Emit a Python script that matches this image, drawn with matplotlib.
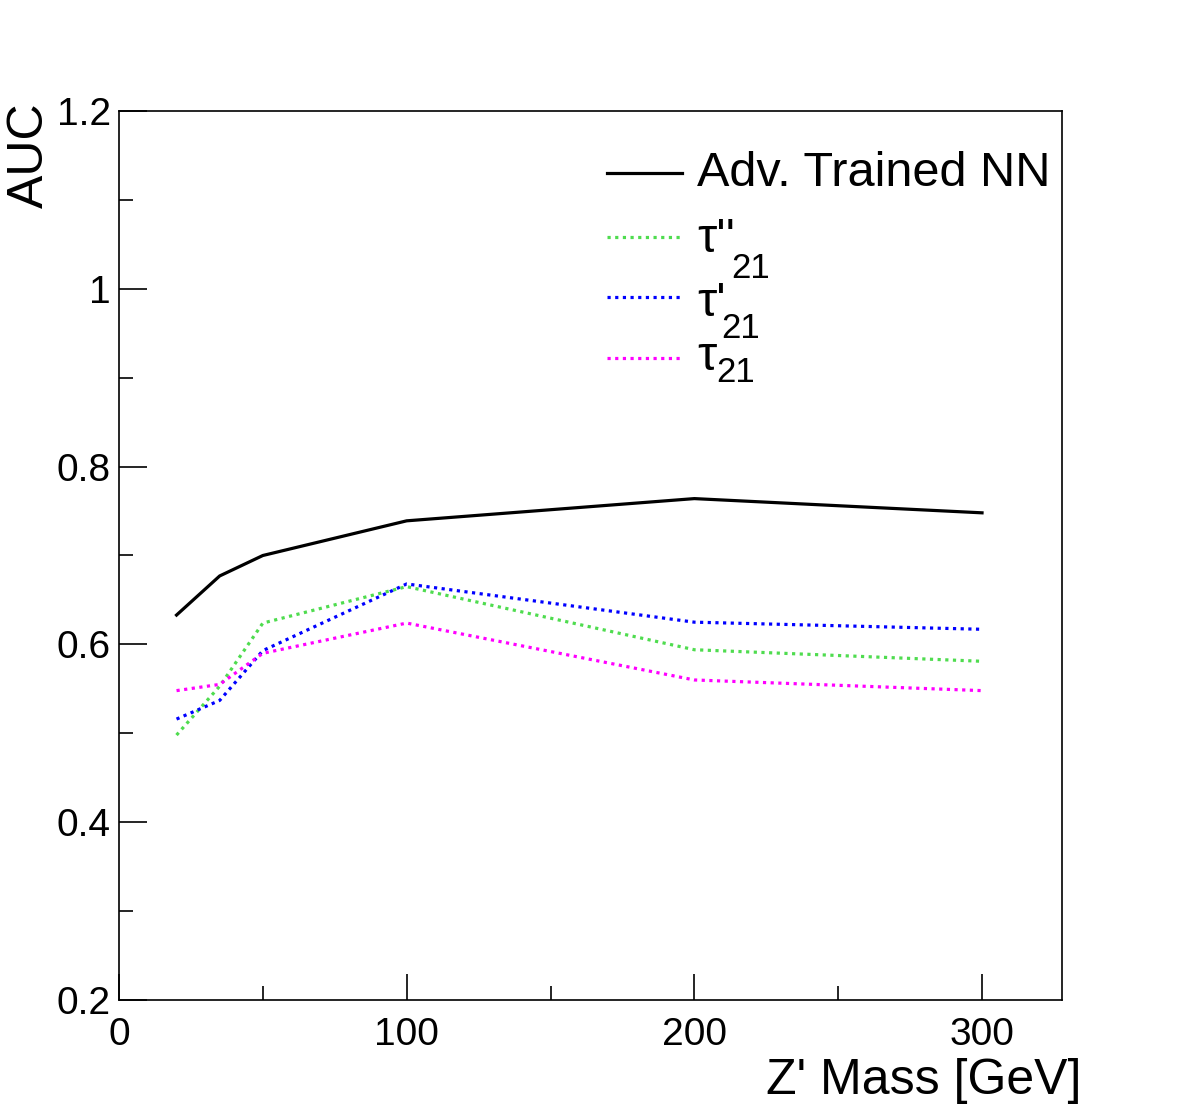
import matplotlib
matplotlib.use("Agg")
import matplotlib.pyplot as plt
from matplotlib.lines import Line2D
from matplotlib.ticker import MultipleLocator

plt.rcParams['font.family'] = ['Liberation Sans', 'DejaVu Sans']

masses = [20, 35, 50, 100, 200, 300]
auc_adv = [0.633, 0.677, 0.700, 0.739, 0.764, 0.748]
auc_tau_pp = [0.498, 0.553, 0.624, 0.665, 0.594, 0.581]
auc_tau_p = [0.516, 0.537, 0.593, 0.668, 0.625, 0.617]
auc_tau = [0.548, 0.555, 0.590, 0.624, 0.560, 0.548]

green = '#4fdc4f'
blue = '#0000ff'
magenta = '#ff00ff'
dots = (0, (1, 1.4))

fig = plt.figure(figsize=(11.82, 11.13), dpi=100)
ax = fig.add_axes([119 / 1182, 113 / 1113, 943 / 1182, 889 / 1113])

ax.plot(masses, auc_adv, color='black', lw=2.3)
ax.plot(masses, auc_tau_pp, color=green, lw=2.3, ls=dots)
ax.plot(masses, auc_tau_p, color=blue, lw=2.3, ls=dots)
ax.plot(masses, auc_tau, color=magenta, lw=2.3, ls=dots)

ax.set_xlim(0, 327.8)
ax.set_ylim(0.2, 1.2)
ax.xaxis.set_major_locator(MultipleLocator(100))
ax.xaxis.set_minor_locator(MultipleLocator(50))
ax.yaxis.set_minor_locator(MultipleLocator(0.1))
ax.set_yticks([0.2, 0.4, 0.6, 0.8, 1.0, 1.2])
ax.set_yticklabels(['0.2', '0.4', '0.6', '0.8', '1', '1.2'])
ax.tick_params(which='both', direction='in', top=False, right=False, labelsize=28, width=1.2)
ax.tick_params(axis='y', which='major', length=20, pad=6)
ax.tick_params(axis='y', which='minor', length=10)
ax.tick_params(axis='x', which='major', length=19, pad=12)
ax.tick_params(axis='x', which='minor', length=10)
for s in ax.spines.values():
    s.set_linewidth(1.2)

fig.text(30 / 1182, 1 - 102 / 1113, 'AUC', rotation=90, ha='center', va='top', fontsize=36)
fig.text(1081 / 1182, 1 - 1104 / 1113, "Z' Mass [GeV]", ha='right', va='bottom', fontsize=36)

# legend, drawn by hand to mimic the ROOT layout
def fx(px):
    return (px - 119) / 943

def fy(py):
    return (1000 - py) / 889

entries = [('black', '-', 173), (green, dots, 237), (blue, dots, 297), (magenta, dots, 358)]
for col, ls, py in entries:
    ax.add_line(Line2D([fx(607), fx(682)], [fy(py), fy(py)], color=col, ls=ls, lw=2.3,
                       transform=ax.transAxes))
ax.text(fx(697), fy(173), 'Adv. Trained NN', transform=ax.transAxes, fontsize=35, va='center')
ax.text(fx(697), fy(240), "τ''", transform=ax.transAxes, fontsize=35, va='center')
ax.text(fx(731), fy(269), '21', transform=ax.transAxes, fontsize=25, va='center')
ax.text(fx(697), fy(303), "τ'", transform=ax.transAxes, fontsize=35, va='center')
ax.text(fx(721), fy(328), '21', transform=ax.transAxes, fontsize=25, va='center')
ax.text(fx(697), fy(358), "τ", transform=ax.transAxes, fontsize=35, va='center')
ax.text(fx(716), fy(373), '21', transform=ax.transAxes, fontsize=25, va='center')

fig.savefig('out.png', dpi=100)
